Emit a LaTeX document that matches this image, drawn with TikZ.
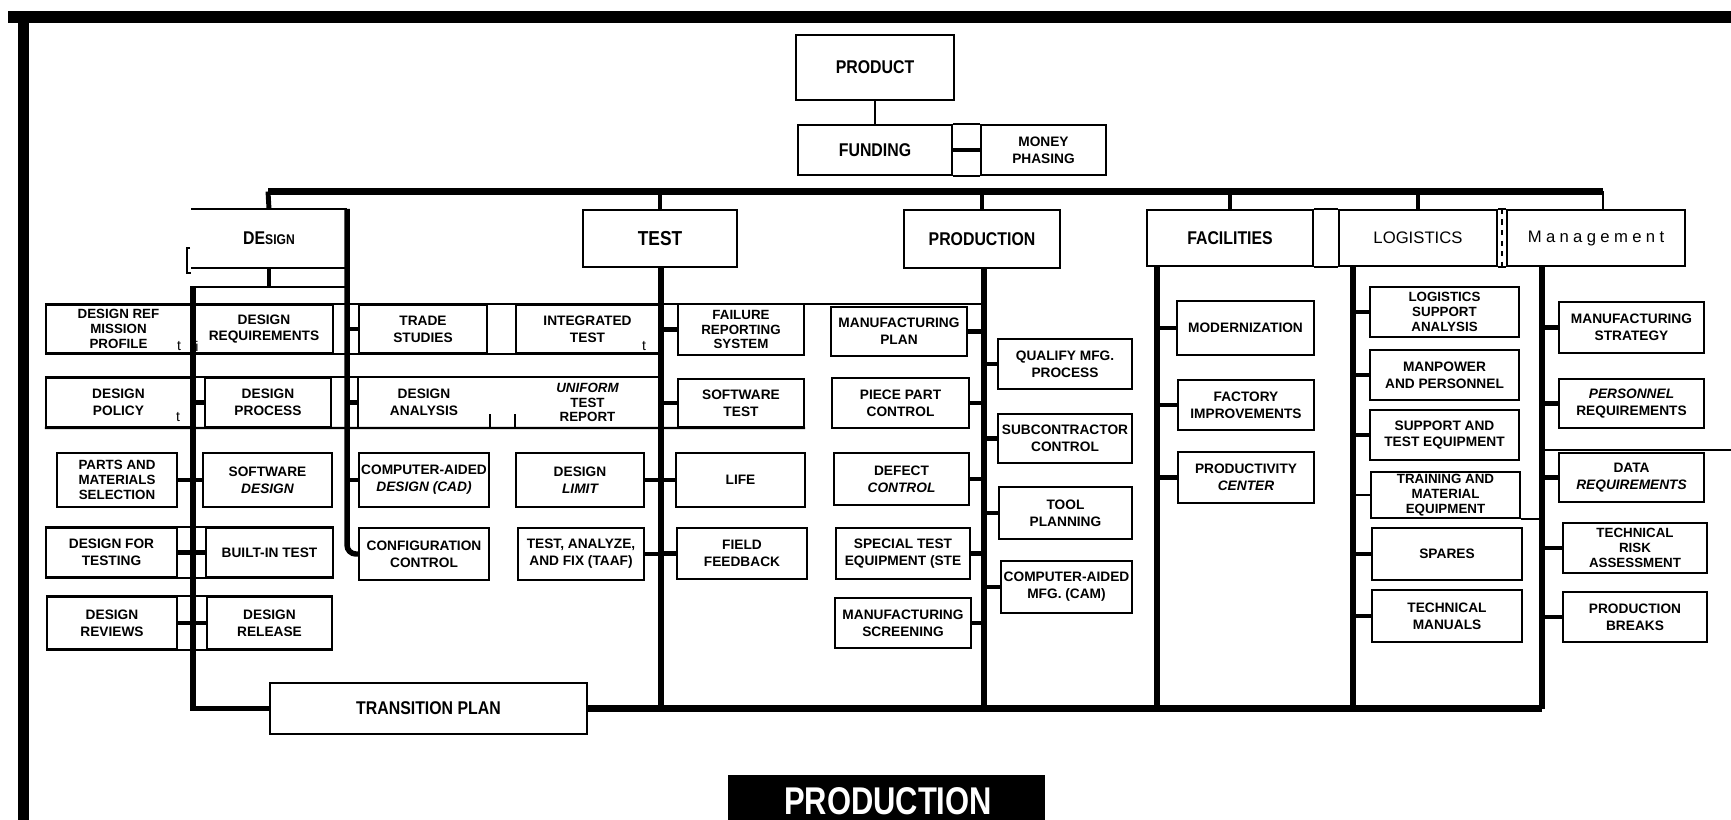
\documentclass[tikz,border=0pt]{standalone}
\usepackage{fontspec}
\usepackage{xcolor}
\setmainfont{Liberation Sans}
\newfontfamily\headfamily{Liberation Sans}[FakeStretch=0.86]
\newfontfamily\bannerfamily{Liberation Sans}[FakeStretch=0.8]
\newfontfamily\mgmtfamily{Liberation Sans}[LetterSpace=26]
\definecolor{ChartInk}{HTML}{000000}
\definecolor{ChartPaper}{HTML}{FFFFFF}
\newcommand{\cellfont}{\fontsize{7.8}{9.6}\selectfont\bfseries}
\newcommand{\trifont}{\fontsize{7.6}{8.4}\selectfont\bfseries}
\newcommand{\headfont}{\headfamily\fontsize{10.5}{12}\selectfont\bfseries}

\begin{document}
\begin{tikzpicture}[x=0.02cm,y=-0.02cm,
    cell/.style 2 args={draw=ChartInk,line width=1.2pt,inner sep=0pt,align=center,
      minimum width=#1*0.02cm,minimum height=#2*0.02cm,font=\cellfont},
    head/.style 2 args={cell={#1}{#2},font=\headfont},
    tri/.style={font=\trifont},
    frame/.style={ChartInk,line width=1.2pt},
    hairline/.style={ChartInk,line width=0.8pt},
    stub/.style={ChartInk,line width=2.8pt},
    spine/.style={ChartInk,line width=3.1pt},
    bus/.style={ChartInk,line width=4.2pt},
    stray/.style={inner sep=0pt,font=\fontsize{8}{8}\selectfont}]
        \useasboundingbox (0,0) rectangle (1731,820);
        \fill[ChartPaper] (0,0) rectangle (1731,820);
        \fill[ChartInk] (8,11) rectangle (1731,23);
        \fill[ChartInk] (18,11) rectangle (29,820);

        \coordinate (bus) at (268,191.5);
        \coordinate (busend) at (1603,191.5);
        \coordinate (dtop) at (190,287);
        \coordinate (dspine) at (193,287);
        \coordinate (tspine) at (661,267);
        \coordinate (pspine) at (984,268);
        \coordinate (fspine) at (1157,266);
        \coordinate (lspine) at (1353,266);
        \coordinate (mspine) at (1542,266);
        \coordinate (rim) at (1731,450);

        \node[head={158}{65}] (product) at (875,67.5) {PRODUCT};
        \node[head={154}{50}] (funding) at (875,150) {FUNDING};
        \node[cell={125}{50}] (money) at (1043.5,150) {MONEY\\PHASING};
        \node[head={154}{57},draw=none] (design)
          at (269,238.5) {DE{\fontsize{8}{10}\selectfont SIGN}};
        \node[head={154}{57},font=\headfamily\fontsize{11.5}{13}\selectfont\bfseries] (test)
          at (660,238.5) {TEST};
        \node[head={156}{58}] (production) at (982,239) {PRODUCTION};
        \node[head={166}{56}] (facilities) at (1230,238) {FACILITIES};
        \node[head={158}{56},font=\fontsize{9.5}{11}\selectfont] (logistics)
          at (1418,238) {LOGISTICS};
        \node[head={178}{56},font=\mgmtfamily\fontsize{9.5}{11}\selectfont] (management)
          at (1596,238) {Management};

        \node[cell={145}{48},tri] (drmp) at (118.5,329) {DESIGN REF\\MISSION\\PROFILE};
        \node[cell={138}{48}] (dreq) at (264,329) {DESIGN\\REQUIREMENTS};
        \node[cell={128}{48}] (trade) at (423,329) {TRADE\\STUDIES};
        \node[cell={143}{48}] (inttest) at (587.5,329) {INTEGRATED\\TEST};
        \node[cell={126}{51},tri] (failrep) at (741,329.5) {FAILURE\\REPORTING\\SYSTEM};
        \node[cell={136}{49}] (mfgplan) at (899,331.5) {MANUFACTURING\\PLAN};

        \node[cell={145}{49}] (dpolicy) at (118.5,402.5) {DESIGN\\POLICY};
        \node[cell={126}{49}] (dprocess) at (268,402.5) {DESIGN\\PROCESS};
        \node[cell={130}{49},draw=none] (danalysis) at (424,402.5) {DESIGN\\ANALYSIS};
        \node[cell={143}{49},draw=none,tri] (uniform)
          at (587.5,402.5) {{\itshape UNIFORM}\\TEST\\REPORT};
        \node[cell={126}{48}] (swtest) at (741,403) {SOFTWARE\\TEST};
        \node[cell={137}{50}] (piece) at (900.5,403) {PIECE PART\\CONTROL};

        \node[cell={120}{54},tri] (parts) at (117,480) {PARTS AND\\MATERIALS\\SELECTION};
        \node[cell={129}{54}] (swdesign) at (267.5,480) {SOFTWARE\\{\itshape DESIGN}};
        \node[cell={130}{54}] (cad) at (424,480) {COMPUTER-AIDED\\{\itshape DESIGN (CAD)}};
        \node[cell={128}{54}] (dlimit) at (580,480) {DESIGN\\{\itshape LIMIT}};
        \node[cell={129}{54}] (life) at (740.5,480) {LIFE};
        \node[cell={135}{52}] (defect) at (901.5,479) {DEFECT\\{\itshape CONTROL}};

        \node[cell={131}{49}] (dft) at (111.5,552.5) {DESIGN FOR\\TESTING};
        \node[cell={127}{49}] (bit) at (269.5,552.5) {BUILT-IN TEST};
        \node[cell={130}{52}] (config) at (424,554) {CONFIGURATION\\CONTROL};
        \node[cell={126}{52}] (taaf) at (581,554) {TEST, ANALYZE,\\AND FIX (TAAF)};
        \node[cell={130}{51}] (field) at (742,553.5) {FIELD\\FEEDBACK};
        \node[cell={134}{51}] (ste) at (903,553.5) {SPECIAL TEST\\EQUIPMENT (STE};

        \node[cell={130}{52}] (dreviews) at (112,623) {DESIGN\\REVIEWS};
        \node[cell={125}{52}] (drelease) at (269.5,623) {DESIGN\\RELEASE};
        \node[cell={136}{50}] (mscreen) at (903,623) {MANUFACTURING\\SCREENING};
        \node[head={317}{51}] (transition) at (428.5,708.5) {TRANSITION PLAN};

        \node[cell={134}{50}] (qualify) at (1065,364) {QUALIFY MFG.\\PROCESS};
        \node[cell={134}{49}] (subcon) at (1065,438.5) {SUBCONTRACTOR\\CONTROL};
        \node[cell={133}{52}] (tool) at (1065.5,513) {TOOL\\PLANNING};
        \node[cell={131}{52}] (cam) at (1066.5,587) {COMPUTER-AIDED\\MFG. (CAM)};

        \node[cell={137}{54}] (modern) at (1245.5,328) {MODERNIZATION};
        \node[cell={136}{50}] (factory) at (1246,405) {FACTORY\\IMPROVEMENTS};
        \node[cell={136}{51}] (prodcenter) at (1246,477.5) {PRODUCTIVITY\\{\itshape CENTER}};

        \node[cell={149}{50},tri] (lsa) at (1444.5,312) {LOGISTICS\\SUPPORT\\ANALYSIS};
        \node[cell={149}{50}] (manpower) at (1444.5,375) {MANPOWER\\AND PERSONNEL};
        \node[cell={149}{50}] (supequip) at (1444.5,435) {SUPPORT AND\\TEST EQUIPMENT};
        \node[cell={149}{46},tri] (training) at (1445.5,495) {TRAINING AND\\MATERIAL\\EQUIPMENT};
        \node[cell={150}{52}] (spares) at (1447,554) {SPARES};
        \node[cell={150}{52}] (techman) at (1447,616) {TECHNICAL\\MANUALS};

        \node[cell={145}{51}] (mstrat) at (1631.5,327.5) {MANUFACTURING\\STRATEGY};
        \node[cell={145}{49}] (perreq) at (1631.5,403.5) {{\itshape PERSONNEL}\\REQUIREMENTS};
        \node[cell={145}{49}] (datareq) at (1631.5,477.5) {DATA\\{\itshape REQUIREMENTS}};
        \node[cell={144}{50},tri] (risk) at (1635,548) {TECHNICAL\\RISK\\ASSESSMENT};
        \node[cell={144}{50}] (pbreaks) at (1635,617) {PRODUCTION\\BREAKS};

        \node[stray] (strayt) at (179,346) {t};
        \node[stray] (strayi) at (197,346) {i};
        \node[stray] (straytt) at (178,417) {t};
        \node[stray] (straytr) at (644,346) {t};

        \draw[hairline] (product.south) -- (funding.north);
        \draw[frame] (funding.north east) -- (money.north west);
        \draw[frame] (funding.south east) -- (money.south west);
        \draw[stub] (funding.east) -- (money.west);

        \draw[bus] (bus) -- (busend);
        \draw[stub] (bus) -- (design.north);
        \draw[stub] (test.north |- bus) -- (test.north);
        \draw[stub] (production.north |- bus) -- (production.north);
        \draw[stub] (facilities.north |- bus) -- (facilities.north);
        \draw[stub] (logistics.north |- bus) -- (logistics.north);
        \draw[hairline] (busend) -- (busend |- management.north);

        \draw[frame] (design.south east) -- (design.south west);
        \draw[frame] (design.north east) -- (design.north west);
        \draw[frame] (190,248) -- (187,248) -- (187,273) -- (191,273);
        \draw[frame] (dtop) -- (dtop -| design.east);
        \draw[stub] (design.south) -- (design.south |- dtop);
        \draw[frame] (facilities.north east) -- (logistics.north west);
        \draw[frame] (facilities.south east) -- (logistics.south west);
        \draw[frame] (logistics.north east) -- (management.north west);
        \draw[frame] (logistics.south east) -- (management.south west);
        \path (logistics.east) -- (management.west) coordinate[midway] (lmgap);
        \draw[frame,dashed] (lmgap |- logistics.north) -- (lmgap |- logistics.south);

        \draw[frame] (drmp.north west) -- (drmp.north west -| pspine);
        \draw[frame] (drmp.south west) -- (inttest.south east);
        \draw[frame] (dpolicy.north west) -- (uniform.north east);
        \draw[frame] (dpolicy.south west) -- (swtest.south east);
        \draw[frame] (danalysis.north west) -- (danalysis.south west);
        \draw[frame] (danalysis.south east) -- ++(0,-14);
        \draw[frame] (uniform.south west) -- ++(0,-14);
        \draw[frame] (dft.north west) -- (bit.north east);
        \draw[frame] (dft.south west) -- (bit.south east);
        \draw[frame] (dreviews.north west) -- (drelease.north east);
        \draw[frame] (dreviews.south west) -- (drelease.south east);
        \draw[frame] (training.south east) -- (training.south east -| mspine);
        \draw[frame] (rim -| mspine) -- (rim);

        \draw[spine] (dspine) -- (dspine |- transition.west) -- (transition.west);
        \draw[spine,rounded corners=5pt]
          (design.north east) -- (design.north east |- config.west) -- (config.west);
        \draw[spine] (tspine) -- (tspine |- transition.east);
        \draw[spine] (pspine) -- (pspine |- transition.east);
        \draw[spine] (fspine) -- (fspine |- transition.east);
        \draw[spine] (lspine) -- (lspine |- transition.east);
        \draw[spine] (mspine) -- (mspine |- transition.east);
        \draw[bus] (transition.east) -- (transition.east -| mspine);

        \draw[stub] (dspine |- trade.west) ++(153,0) -- (trade.west);
        \draw[stub] (dpolicy.east) -- (dprocess.west);
        \draw[stub] (danalysis.west -| design.east) -- (danalysis.west);
        \draw[stub] (parts.east) -- (swdesign.west);
        \draw[stub] (cad.west -| design.east) -- (cad.west);
        \draw[stub] (dft.east) -- (bit.west);
        \draw[stub] (dreviews.east) -- (drelease.west);

        \draw[stub] (dlimit.east) -- (dlimit.east -| tspine);
        \draw[stub] (taaf.east) -- (taaf.east -| tspine);
        \draw[stub] (failrep.west -| tspine) -- (failrep.west);
        \draw[stub] (swtest.west -| tspine) -- (swtest.west);
        \draw[stub] (life.west -| tspine) -- (life.west);
        \draw[stub] (field.west -| tspine) -- (field.west);

        \draw[stub] (mfgplan.east) -- (mfgplan.east -| pspine);
        \draw[stub] (piece.east) -- (piece.east -| pspine);
        \draw[stub] (defect.east) -- (defect.east -| pspine);
        \draw[stub] (ste.east) -- (ste.east -| pspine);
        \draw[stub] (mscreen.east) -- (mscreen.east -| pspine);
        \draw[stub] (qualify.west -| pspine) -- (qualify.west);
        \draw[stub] (subcon.west -| pspine) -- (subcon.west);
        \draw[stub] (tool.west -| pspine) -- (tool.west);
        \draw[stub] (cam.west -| pspine) -- (cam.west);

        \draw[stub] (modern.west -| fspine) -- (modern.west);
        \draw[stub] (factory.west -| fspine) -- (factory.west);
        \draw[stub] (prodcenter.west -| fspine) -- (prodcenter.west);

        \draw[stub] (lsa.west -| lspine) -- (lsa.west);
        \draw[stub] (manpower.west -| lspine) -- (manpower.west);
        \draw[stub] (supequip.west -| lspine) -- (supequip.west);
        \draw[hairline] (training.west -| lspine) -- (training.west);
        \draw[stub] (spares.west -| lspine) -- (spares.west);
        \draw[stub] (techman.west -| lspine) -- (techman.west);

        \draw[stub] (mstrat.west -| mspine) -- (mstrat.west);
        \draw[stub] (perreq.west -| mspine) -- (perreq.west);
        \draw[stub] (datareq.west -| mspine) -- (datareq.west);
        \draw[stub] (risk.west -| mspine) -- (risk.west);
        \draw[stub] (pbreaks.west -| mspine) -- (pbreaks.west);

        \fill[ChartInk] (728,775) rectangle (1045,845);
        \node[anchor=base,inner sep=0pt,text=ChartPaper,
          font=\bannerfamily\bfseries\fontsize{22}{26}\selectfont] (banner)
          at (888,814) {PRODUCTION};
\end{tikzpicture}
\end{document}
